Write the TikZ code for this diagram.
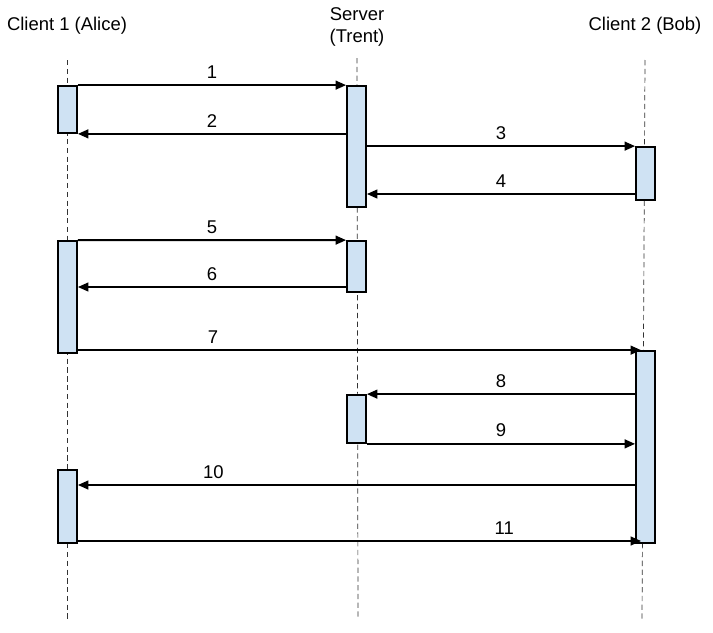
\documentclass[tikz,border=0pt]{standalone}
\usepackage{fontspec}
\setmainfont{Liberation Sans}
\usepackage{tikz}
\usetikzlibrary{calc,positioning,arrows.meta}
\definecolor{actblue}{RGB}{207,226,243}
\tikzset{
	x=0.02cm,
	y=-0.02cm,
	every node/.style={font=\fontsize{10.5}{12.5}\selectfont},
	life/.style={densely dashed, thin, black!80},
	act/.style={draw, line width=1pt, fill=actblue, inner sep=0pt, minimum width=0.38cm, minimum height=#1},
	msg/.style={line width=1.1pt, -{Triangle[length=6pt,width=5pt]}},
}

\begin{document}
\begin{tikzpicture}
		\useasboundingbox (0,0) rectangle (713,632);

		\node (alice) at (67,26) {Client 1 (Alice)};
		\node[align=center] (trent) at (357,27) {Server\\(Trent)};
		\node (bob) at (645,26) {Client 2 (Bob)};

		\coordinate (at) at (67,60);
		\coordinate (ab) at (67,620);
		\coordinate (tt) at (357,58);
		\coordinate (tb) at (358,620);
		\coordinate (bt) at (645,60);
		\coordinate (bb) at (642,620);
		\draw[life] (at) -- (ab);
		\draw[life] (tt) -- (tb);
		\draw[life] (bt) -- (bb);

		\node[act=0.94cm] (a1) at (67.5,109.5) {};
		\node[act=2.42cm] (s1) at (356.5,146.5) {};
		\node[act=1.06cm] (b1) at (645.5,173.5) {};
		\node[act=2.24cm] (a2) at (67.5,297) {};
		\node[act=1.02cm] (s2) at (356.5,266.5) {};
		\node[act=3.84cm] (b2) at (645.5,447) {};
		\node[act=0.96cm] (s3) at (356.5,419) {};
		\node[act=1.46cm] (a3) at (67.5,506.5) {};

		\draw[msg] (a1.north east) -- node[above]{1} (s1.west |- a1.north);
		\draw[msg] (s1.west |- a1.south) -- node[above]{2} (a1.south east);
		\draw[msg] (s1.east |- b1.north) -- node[above]{3} (b1.north west);
		\draw[msg] (b1.west |- 0,194) -- node[above]{4} (s1.east |- 0,194);
		\draw[msg] (a2.north east) -- node[above]{5} (s2.north west);
		\draw[msg] (s2.west |- 0,287) -- node[above]{6} (a2.east |- 0,287);
		\draw[msg] (a2.east |- b2.north) -- node[above, pos=0.24]{7} ($(b2.north west)+(6,0)$);
		\draw[msg] (b2.west |- s3.north) -- node[above]{8} (s3.north east);
		\draw[msg] (s3.south east) -- node[above]{9} (b2.west |- s3.south);
		\draw[msg] (b2.west |- 0,485) -- node[above, pos=0.757]{10} (a3.east |- 0,485);
		\draw[msg] (a3.east |- 0,541) -- node[above, pos=0.757]{11} ($(b2.west |- 0,541)+(6,0)$);
	\end{tikzpicture}
\end{document}
